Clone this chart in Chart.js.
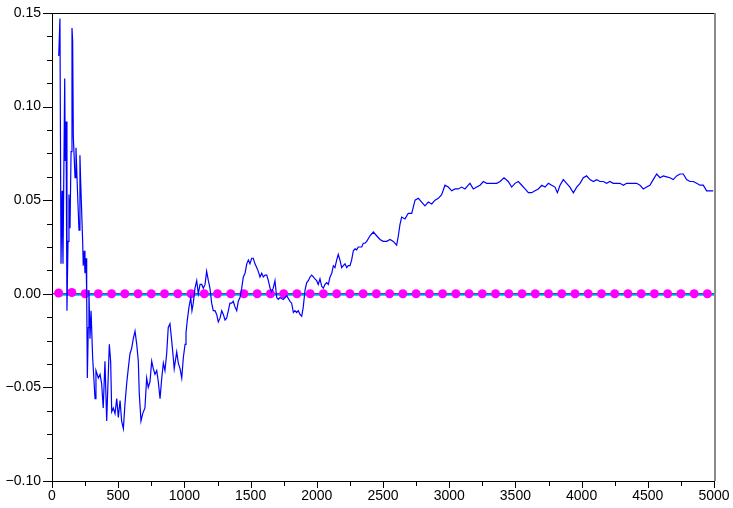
<!DOCTYPE html>
<html>
<head>
<meta charset="utf-8">
<script src="https://cdn.jsdelivr.net/npm/chart.js@4"></script>
<style>
html,body{margin:0;padding:0;background:#fff;}
#wrap{width:733px;height:508px;position:relative;}
</style>
</head>
<body>
<div id="wrap"><canvas id="c"></canvas></div>
<script>
// ---- data ----
const blueX = [51,60,68,76,83,96,100,106,113,121,128,136,144,151,156,161,174,181,194,204,211,217,232,236,244,249,257,262,267,274,279,287,295,307,325,332,350,363,375,387,400,413,433,443,451,463,476,489,501,514,526,539,551,564,576,589,602,614,627,640,652,659,672,685,702,715,727,740,753,765,778,791,803,816,829,841,853,866,878,891,904,916,923,942,954,967,980,992,1005,1012,1022,1035,1048,1057,1067,1080,1093,1105,1118,1131,1143,1156,1168,1181,1193,1206,1218,1231,1244,1256,1269,1282,1294,1307,1319,1332,1344,1357,1369,1382,1395,1407,1420,1433,1445,1458,1471,1483,1495,1508,1520,1533,1546,1558,1571,1584,1596,1609,1622,1634,1647,1659,1671,1684,1697,1709,1722,1747,1773,1798,1810,1823,1835,1848,1860,1873,1886,1898,1911,1924,1936,1949,1961,1974,1986,1999,2011,2024,2037,2049,2062,2075,2087,2100,2113,2125,2137,2150,2162,2175,2188,2200,2213,2226,2238,2251,2263,2276,2289,2301,2313,2326,2339,2351,2364,2377,2402,2427,2452,2477,2502,2528,2553,2578,2603,2616,2628,2641,2666,2691,2717,2742,2767,2792,2817,2842,2868,2893,2918,2943,2968,2993,3019,3044,3069,3094,3119,3144,3157,3182,3208,3233,3258,3283,3308,3333,3359,3384,3414,3446,3472,3497,3522,3548,3573,3598,3623,3648,3673,3699,3724,3749,3774,3799,3817,3837,3862,3887,3912,3938,3963,3988,4013,4038,4063,4089,4114,4139,4164,4189,4214,4239,4265,4290,4315,4340,4365,4390,4416,4441,4466,4491,4516,4541,4567,4592,4617,4642,4667,4692,4718,4743,4768,4793,4818,4844,4869,4894,4919,4944,4969,4994];
const blueY = [0.127,0.147,0.016,0.055,0.016,0.115,0.071,0.092,-0.009,0.028,0.053,0.035,0.076,0.142,0.135,0.084,0.062,0.078,0.052,0.034,0.074,0.059,0.027,0.015,0.023,0.011,0.019,0.000,-0.045,-0.018,0.002,-0.024,-0.009,-0.034,-0.056,-0.041,-0.045,-0.043,-0.048,-0.061,-0.036,-0.068,-0.027,-0.036,-0.063,-0.061,-0.064,-0.056,-0.066,-0.057,-0.068,-0.072,-0.059,-0.048,-0.040,-0.032,-0.029,-0.024,-0.020,-0.027,-0.036,-0.053,-0.068,-0.064,-0.061,-0.045,-0.050,-0.047,-0.036,-0.040,-0.043,-0.041,-0.047,-0.056,-0.045,-0.037,-0.041,-0.032,-0.018,-0.016,-0.025,-0.034,-0.040,-0.031,-0.037,-0.040,-0.045,-0.034,-0.027,-0.021,-0.014,-0.007,-0.002,-0.009,-0.005,0.003,0.007,0.000,0.005,0.005,0.003,0.005,0.012,0.007,0.003,-0.005,-0.009,-0.009,-0.011,-0.015,-0.013,-0.009,-0.011,-0.014,-0.013,-0.009,-0.005,-0.005,-0.004,-0.007,-0.009,-0.004,-0.002,0.003,0.009,0.011,0.016,0.018,0.016,0.019,0.019,0.016,0.014,0.012,0.009,0.011,0.009,0.010,0.010,0.007,0.003,0.001,0.003,0.007,-0.002,-0.003,-0.002,-0.003,-0.001,-0.004,-0.005,-0.010,-0.009,-0.010,-0.009,-0.011,-0.012,-0.007,0.002,0.006,0.007,0.009,0.010,0.009,0.008,0.007,0.005,0.008,0.004,0.003,0.005,0.006,0.005,0.009,0.011,0.015,0.014,0.018,0.021,0.018,0.014,0.015,0.016,0.014,0.015,0.015,0.018,0.023,0.024,0.0235,0.025,0.025,0.025,0.027,0.027,0.028,0.031,0.033,0.031,0.029,0.028,0.028,0.029,0.028,0.026,0.031,0.037,0.041,0.040,0.043,0.043,0.050,0.051,0.049,0.047,0.049,0.048,0.050,0.051,0.053,0.058,0.057,0.055,0.056,0.056,0.057,0.056,0.058,0.059,0.056,0.057,0.058,0.060,0.059,0.059,0.059,0.059,0.060,0.062,0.060,0.057,0.059,0.060,0.058,0.056,0.054,0.054,0.055,0.056,0.058,0.057,0.059,0.058,0.057,0.054,0.058,0.061,0.059,0.057,0.054,0.057,0.059,0.062,0.063,0.061,0.060,0.061,0.060,0.060,0.059,0.060,0.059,0.059,0.059,0.058,0.059,0.059,0.059,0.059,0.058,0.056,0.057,0.058,0.061,0.064,0.062,0.063,0.0625,0.062,0.061,0.063,0.064,0.064,0.061,0.060,0.060,0.059,0.058,0.058,0.055,0.055,0.055];

const dotX = [50,150,250,350,450,550,650,750,850,950,1050,1150,1250,1350,1450,1550,1650,1750,1850,1950,2050,2150,2250,2350,2450,2550,2650,2750,2850,2950,3050,3150,3250,3350,3450,3550,3650,3750,3850,3950,4050,4150,4250,4350,4450,4550,4650,4750,4850,4950];
const dotY = [0.0004,0.0007,0,0,0,0,0,0,0,0,0,0,0,0,0,0,0,0,0,0,0,0,0,0,0,0,0,0,0,0,0,0,0,0,0,0,0,0,0,0,0,0,0,0,0,0,0,0,0,0];

const trueX = [50,5000];
const trueY = [-0.0007,-0.0007];
const zeroX = [0,5000];
const zeroY = [0,0];

const xTickValues = [0,500,1000,1500,2000,2500,3000,3500,4000,4500,5000];
const yTickValues = [-0.10,-0.05,0.00,0.05,0.10,0.15];
const yTickLabels = ["\u22120.10","\u22120.05","0.00","0.05","0.10","0.15"];

function pts(xs, ys){ return xs.map((x,i)=>({x:x,y:ys[i]})); }

const framePlugin = {
  id:'frame',
  afterDraw(chart){
    const ctx = chart.ctx, a = chart.chartArea;
    const xs = chart.scales.x, ys = chart.scales.y;
    ctx.save();
    ctx.strokeStyle = '#000'; ctx.lineWidth = 1;
    ctx.beginPath();
    ctx.moveTo(a.left, a.top + 0.5); ctx.lineTo(a.right, a.top + 0.5);
    ctx.stroke();
    ctx.strokeStyle = '#8a8a8a'; ctx.lineWidth = 2;
    ctx.beginPath();
    ctx.moveTo(a.right + 1, a.top); ctx.lineTo(a.right + 1, a.bottom);
    ctx.stroke();
    ctx.strokeStyle = '#000'; ctx.lineWidth = 1;
    ctx.beginPath();
    for (let i = 0; i < xTickValues.length; i++) {
      const px = Math.round(xs.getPixelForValue(xTickValues[i])) + 0.5;
      ctx.moveTo(px, a.bottom); ctx.lineTo(px, a.bottom + 7);
      if (i < xTickValues.length - 1) {
        const mx = Math.round(xs.getPixelForValue((xTickValues[i] + xTickValues[i+1]) / 2)) + 0.5;
        ctx.moveTo(mx, a.bottom); ctx.lineTo(mx, a.bottom + 5);
      }
    }
    for (let i = 0; i < yTickValues.length; i++) {
      const py = Math.round(ys.getPixelForValue(yTickValues[i])) + 0.5;
      ctx.moveTo(a.left, py); ctx.lineTo(a.left - 9, py);
      if (i < yTickValues.length - 1) {
        for (let k = 1; k < 4; k++) {
          const v = yTickValues[i] + (yTickValues[i+1] - yTickValues[i]) * k / 4;
          const my = Math.round(ys.getPixelForValue(v)) + 0.5;
          ctx.moveTo(a.left, my); ctx.lineTo(a.left - 5, my);
        }
      }
    }
    ctx.stroke();
    ctx.restore();
  }
};

new Chart(document.getElementById('c'), {
  type: 'line',
  data: {
    datasets: [
      { data: pts(blueX, blueY), borderColor:'#0000ff', borderWidth:1.2, pointRadius:0, tension:0, fill:false, order:1 },
      { data: pts(dotX, dotY), showLine:false, pointRadius:4.5, pointBackgroundColor:'#ff00ff', pointBorderColor:'#ff00ff', pointBorderWidth:0, order:2 },
      { data: pts(zeroX, zeroY), borderColor:'#00006e', borderWidth:1, pointRadius:0, order:3 },
      { data: pts(trueX, trueY), borderColor:'#00e5ff', borderWidth:2, pointRadius:0, order:4 }
    ]
  },
  options: {
    responsive:true, maintainAspectRatio:false, animation:false, devicePixelRatio:1,
    layout:{ padding:{ top:13, right:19, left:0, bottom:0 } },
    plugins:{ legend:{display:false}, tooltip:{enabled:false} },
    scales:{
      x:{ type:'linear', min:0, max:5000,
          afterBuildTicks(s){ s.ticks = xTickValues.map(v=>({value:v})); },
          ticks:{ autoSkip:false, maxRotation:0, padding:7, color:'#000', font:{family:'"Liberation Sans", Arial, sans-serif', size:14},
                  callback:(v)=>String(v) },
          grid:{ display:false, drawTicks:false, tickLength:0 }, border:{ display:true, color:'#000', width:1 },
          afterFit(s){ s.height = 27; s.paddingLeft = 0; s.paddingRight = 0; } },
      y:{ type:'linear', min:-0.1, max:0.15,
          afterBuildTicks(s){ s.ticks = yTickValues.map(v=>({value:v})); },
          ticks:{ autoSkip:false, padding:11, color:'#000', font:{family:'"Liberation Sans", Arial, sans-serif', size:14},
                  callback:(v)=>{ const i = yTickValues.findIndex(t=>Math.abs(t-v)<1e-9); return i>=0 ? yTickLabels[i] : ''; } },
          grid:{ display:false, drawTicks:false, tickLength:0 }, border:{ display:true, color:'#000', width:1 },
          afterFit(s){ s.width = 52; s.paddingTop = 0; s.paddingBottom = 0; } }
    }
  },
  plugins:[framePlugin]
});
</script>
</body>
</html>
